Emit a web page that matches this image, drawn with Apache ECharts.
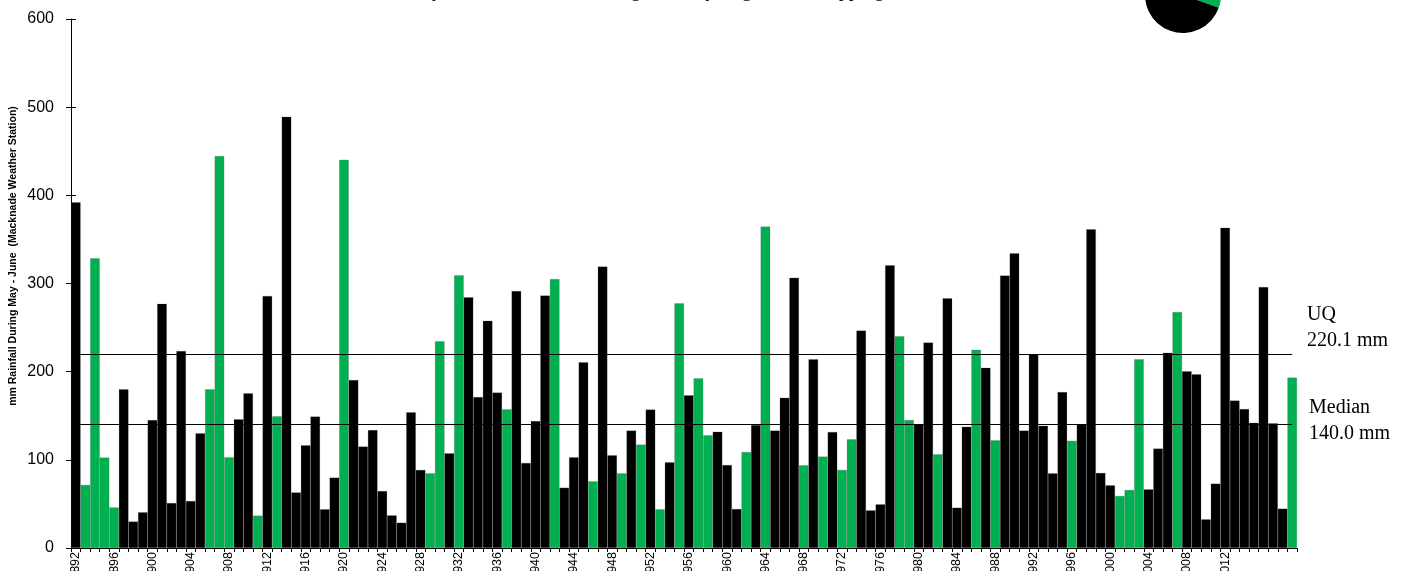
<!DOCTYPE html>
<html>
<head>
<meta charset="utf-8">
<script src="https://cdn.jsdelivr.net/npm/echarts@6/dist/echarts.min.js"></script>
<style>
html,body{margin:0;padding:0;background:#fff;}
#chart{width:1409px;height:571px;}
</style>
</head>
<body>
<div id="chart"></div>
<script>
// ---- data ----
const years = [];
for (let y = 1892; y <= 2019; y++) years.push(String(y));

const rainfall = [
  392, 71.5, 328.5, 102.5, 46, 180, 30, 40.5, 145, 277,
  51, 223.4, 53.3, 130, 180, 444.6, 103, 146, 175.4, 36.7,
  285.8, 149.3, 489.2, 63, 116.4, 149, 43.9, 79.8, 440.4, 190.5,
  115, 133.8, 64.6, 37, 28.7, 153.9, 88.5, 84.7, 234.4, 107.4,
  309.3, 284.3, 171.3, 257.8, 176.2, 157.3, 291.5, 96.4, 144, 286.2,
  305.1, 68.4, 102.8, 210.6, 75.6, 319.1, 105.1, 84.7, 133.1, 117.2,
  156.9, 43.9, 97.2, 277.5, 173.2, 192.4, 127.8, 131.9, 94.1, 44.2,
  108.9, 139.5, 364.5, 133.1, 170.5, 306.6, 93.8, 214, 103.6, 131.6,
  88.5, 123.2, 246.5, 42.7, 49.5, 320.6, 240.1, 145.2, 140.3, 232.9,
  106.2, 283.2, 45.7, 137.6, 224.9, 204.5, 122.1, 308.9, 334.2, 133.1,
  219.6, 138.7, 84.7, 176.9, 121.7, 140.3, 361.4, 85.1, 71.1, 59,
  65.8, 214, 66.5, 112.7, 221.5, 267.7, 200.4, 197, 32.5, 73,
  363.3, 167.1, 157.6, 142.1, 296, 141.4, 44.6, 193.2
];

const greenYears = [
  1893, 1894, 1895, 1896, 1906, 1907, 1908, 1911, 1913, 1920,
  1929, 1930, 1932, 1937, 1942, 1946, 1949, 1951, 1953, 1955,
  1957, 1958, 1962, 1964, 1968, 1970, 1972, 1973, 1978, 1979,
  1982, 1986, 1988, 1996, 2001, 2002, 2003, 2007, 2019
];

const labelYears = [
  1892, 1896, 1900, 1904, 1908, 1912, 1916, 1920, 1924, 1928,
  1932, 1936, 1940, 1944, 1948, 1952, 1956, 1960, 1964, 1968,
  1972, 1976, 1980, 1984, 1988, 1992, 1996, 2000, 2004, 2008, 2012
];

const yTicks = [0, 100, 200, 300, 400, 500, 600];
const upperQuartile = 220.1;
const median = 140.0;

// ---- styles ----
const GREEN = '#00B050';
const BLACK = '#000000';

const barData = rainfall.map((v, i) => ({
  value: v,
  itemStyle: { color: greenYears.includes(+years[i]) ? GREEN : BLACK }
}));
const greenCount = years.filter(y => greenYears.includes(+y)).length;
const blackCount = years.length - greenCount;

const chart = echarts.init(document.getElementById('chart'), null, { renderer: 'canvas' });

const yAxisBase = {
  type: 'value',
  min: yTicks[0],
  max: yTicks[yTicks.length - 1],
  interval: 100,
  splitLine: { show: false }
};

chart.setOption({
  animation: false,
  backgroundColor: '#ffffff',
  grid: { left: 71, right: 112, top: 19, bottom: 23, containLabel: false, outerBoundsMode: 'none' },
  xAxis: {
    type: 'category',
    data: years,
    boundaryGap: true,
    axisLine: { lineStyle: { color: '#000', width: 1 } },
    axisTick: { show: true, interval: 0, alignWithLabel: false, length: 4, lineStyle: { color: '#000' } },
    axisLabel: {
      interval: (idx, val) => labelYears.includes(+val),
      rotate: 90,
      margin: 4,
      fontFamily: 'Liberation Sans, Arial, sans-serif',
      fontSize: 12.5,
      color: '#000'
    },
    splitLine: { show: false }
  },
  yAxis: [
    Object.assign({}, yAxisBase, {
      axisLine: { show: true, lineStyle: { color: '#000', width: 1 } },
      axisTick: { show: true, length: 5, lineStyle: { color: '#000' } },
      axisLabel: {
        margin: 17,
        fontFamily: 'Liberation Sans, Arial, sans-serif',
        fontSize: 16,
        color: '#000'
      }
    }),
    Object.assign({}, yAxisBase, {
      position: 'left',
      axisLine: { show: false },
      axisTick: { show: true, inside: true, length: 5, lineStyle: { color: '#000' } },
      axisLabel: { show: false }
    })
  ],
  series: [
    {
      type: 'bar',
      data: barData,
      barCategoryGap: '0%',
      barGap: '0%',
      itemStyle: { borderColor: 'rgba(90,90,90,0.55)', borderWidth: 0.4 },
      z: 2,
      markLine: {
        silent: true,
        symbol: 'none',
        z: 5,
        label: { show: false },
        lineStyle: { color: '#000', width: 1, type: 'solid' },
        data: [
          [ { coord: [years[0], upperQuartile] }, { coord: [years[years.length - 1], upperQuartile] } ],
          [ { coord: [years[0], median] }, { coord: [years[years.length - 1], median] } ]
        ]
      }
    },
    {
      type: 'pie',
      center: [1183, -5],
      radius: 38,
      startAngle: 90,
      clockwise: true,
      silent: true,
      label: { show: false },
      labelLine: { show: false },
      data: [
        { value: greenCount, name: 'Green', itemStyle: { color: GREEN } },
        { value: blackCount, name: 'Black', itemStyle: { color: BLACK } }
      ]
    }
  ],
  graphic: [
    {
      type: 'text',
      x: 684, y: 1,
      style: {
        text: 'May - June Rainfall Showing Years by Sugarcane Cropping Outcome',
        fontFamily: 'Liberation Serif, Times New Roman, serif',
        fontSize: 20,
        fill: '#000',
        align: 'center',
        verticalAlign: 'bottom'
      }
    },
    {
      type: 'text',
      x: 13, y: 256,
      rotation: Math.PI / 2,
      style: {
        text: 'mm Rainfall During May - June  (Macknade Weather Station)',
        fontFamily: 'Liberation Sans, Arial, sans-serif',
        fontWeight: 'bold',
        fontSize: 10.5,
        fill: '#000',
        align: 'center',
        verticalAlign: 'middle'
      }
    },
    {
      type: 'text',
      x: 1307, y: 302,
      style: {
        text: 'UQ\n' + upperQuartile.toFixed(1) + ' mm',
        fontFamily: 'Liberation Serif, Times New Roman, serif',
        fontSize: 20,
        lineHeight: 26,
        fill: '#000',
        align: 'left',
        verticalAlign: 'top'
      }
    },
    {
      type: 'text',
      x: 1309, y: 395,
      style: {
        text: 'Median\n' + median.toFixed(1) + ' mm',
        fontFamily: 'Liberation Serif, Times New Roman, serif',
        fontSize: 20,
        lineHeight: 26,
        fill: '#000',
        align: 'left',
        verticalAlign: 'top'
      }
    }
  ]
});
</script>
</body>
</html>
